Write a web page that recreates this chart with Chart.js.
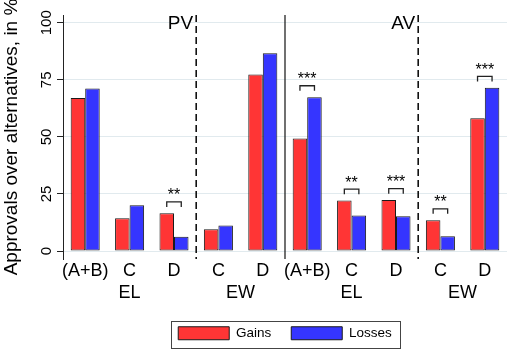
<!DOCTYPE html>
<html>
<head>
<meta charset="utf-8">
<script src="https://cdn.jsdelivr.net/npm/chart.js@4/dist/chart.umd.min.js"></script>
<style>
  html, body { margin: 0; padding: 0; background: #fff; }
</style>
</head>
<body>
<canvas id="my-chart" width="510" height="350"></canvas>
<script>
// category labels along the x axis (PV panel, then AV panel)
const categories = ['(A+B)', 'C', 'D', 'C', 'D', '(A+B)', 'C', 'D', 'C', 'D'];
const gains  = [67.0, 14.3, 16.5,  9.5, 77.3, 49.3, 22.1, 22.3, 13.5, 58.2];
const losses = [71.2, 20.0,  6.3, 11.2, 86.6, 67.4, 15.6, 15.2,  6.5, 71.5];
const stars  = ['', '', '**', '', '', '***', '**', '***', '**', '***'];
const yTicks = [0, 25, 50, 75, 100];
// second row of x labels: [label, first index, last index]
const groups = [['EL', 0, 2], ['EW', 3, 4], ['EL', 5, 7], ['EW', 8, 9]];
// vertical separators drawn after a category index
const dashedAfter = [2, 7];
const solidAfter = [4];
const panelNames = ['PV', 'AV'];

const FONT = "'Liberation Sans', Arial, sans-serif";

const extras = {
  id: 'extras',
  afterDatasetsDraw(chart) {
    const ctx = chart.ctx;
    const area = chart.chartArea;
    const x = chart.scales.x;
    const y = chart.scales.y;
    const between = i => (x.getPixelForValue(i) + x.getPixelForValue(i + 1)) / 2;
    ctx.save();

    ctx.strokeStyle = '#111';
    dashedAfter.forEach((i, k) => {
      const px = between(i);
      ctx.beginPath();
      ctx.setLineDash([7, 4]);
      ctx.lineWidth = 1.6;
      ctx.moveTo(px, area.top);
      ctx.lineTo(px, area.bottom);
      ctx.stroke();
      ctx.setLineDash([]);
      ctx.fillStyle = '#000';
      ctx.font = '19px ' + FONT;
      ctx.textAlign = 'right';
      ctx.textBaseline = 'top';
      ctx.fillText(panelNames[k], px - 3, area.top - 1);
    });
    solidAfter.forEach(i => {
      const px = between(i);
      ctx.beginPath();
      ctx.lineWidth = 1.2;
      ctx.moveTo(px, area.top);
      ctx.lineTo(px, area.bottom);
      ctx.stroke();
    });

    // significance brackets
    const red = chart.getDatasetMeta(0).data;
    const blue = chart.getDatasetMeta(1).data;
    ctx.lineWidth = 1.3;
    ctx.strokeStyle = '#222';
    stars.forEach((s, i) => {
      if (!s) return;
      const top = y.getPixelForValue(Math.max(gains[i], losses[i]) + 5);
      const x0 = red[i].x, x1 = blue[i].x;
      ctx.beginPath();
      ctx.moveTo(x0, top + 5);
      ctx.lineTo(x0, top);
      ctx.lineTo(x1, top);
      ctx.lineTo(x1, top + 5);
      ctx.stroke();
      ctx.fillStyle = '#000';
      ctx.font = '16px ' + FONT;
      ctx.textAlign = 'center';
      ctx.textBaseline = 'middle';
      ctx.fillText(s, (x0 + x1) / 2, top - 6);
    });

    // rotated y tick labels
    ctx.font = '15px ' + FONT;
    ctx.textAlign = 'center';
    ctx.textBaseline = 'middle';
    ctx.fillStyle = '#000';
    yTicks.forEach(v => {
      ctx.save();
      ctx.translate(area.left - 16, y.getPixelForValue(v));
      ctx.rotate(-Math.PI / 2);
      ctx.fillText(String(v), 0, 0);
      ctx.restore();
    });

    // group labels under the categories
    ctx.font = '18px ' + FONT;
    ctx.textBaseline = 'top';
    groups.forEach(([label, a, b]) => {
      const px = (x.getPixelForValue(a) + x.getPixelForValue(b)) / 2;
      ctx.fillText(label, px, area.bottom + 25);
    });
    ctx.restore();
  },
  afterDraw(chart) {
    const boxes = chart.legend.legendHitBoxes;
    if (!boxes || !boxes.length) return;
    const first = boxes[0], last = boxes[boxes.length - 1];
    const ctx = chart.ctx;
    ctx.save();
    ctx.strokeStyle = '#444';
    ctx.lineWidth = 1;
    const l = first.left - 7, r = last.left + last.width + 8;
    const t = first.top - 6, b = first.top + first.height + 7;
    ctx.strokeRect(Math.round(l) + 0.5, Math.round(t) + 0.5, Math.round(r - l), Math.round(b - t));
    ctx.restore();
  }
};

const ctx = document.getElementById('my-chart');
const myChart = new Chart(ctx, {
  type: 'bar',
  data: {
    labels: categories,
    datasets: [
      {
        label: 'Gains',
        data: gains,
        backgroundColor: '#ff3535',
        borderColor: '#1a1a1a',
        borderWidth: 1,
        borderSkipped: false
      },
      {
        label: 'Losses',
        data: losses,
        backgroundColor: '#3535ff',
        borderColor: '#1a1a1a',
        borderWidth: 1,
        borderSkipped: false
      }
    ]
  },
  options: {
    responsive: false,
    animation: false,
    categoryPercentage: 0.654,
    barPercentage: 1.0,
    layout: { padding: { top: 15, right: 3, left: 0, bottom: 0 } },
    plugins: {
      legend: {
        position: 'bottom',
        fullSize: false,
        labels: {
          boxWidth: 51,
          boxHeight: 13,
          padding: 20,
          color: '#000',
          font: { family: FONT, size: 13.5 }
        }
      },
      tooltip: { enabled: false }
    },
    scales: {
      x: {
        grid: { display: false, drawTicks: false },
        border: { display: false },
        ticks: {
          autoSkip: false,
          maxRotation: 0,
          padding: 1,
          color: '#000',
          font: { family: FONT, size: 18 }
        },
        afterFit(scale) { scale.height = 47.5; }
      },
      y: {
        min: -3.5,
        max: 103.4,
        afterBuildTicks(scale) { scale.ticks = yTicks.map(v => ({ value: v })); },
        grid: { color: '#e1eaee', tickColor: '#222', tickLength: 6, lineWidth: 1 },
        border: { display: true, color: '#222', width: 1 },
        ticks: { display: false },
        title: {
          display: true,
          text: 'Approvals over alternatives, in %',
          color: '#000',
          padding: { top: 0, bottom: 0 },
          font: { family: FONT, size: 19 }
        },
        afterFit(scale) { scale.width = 63; }
      }
    }
  },
  plugins: [extras]
});
</script>
</body>
</html>
